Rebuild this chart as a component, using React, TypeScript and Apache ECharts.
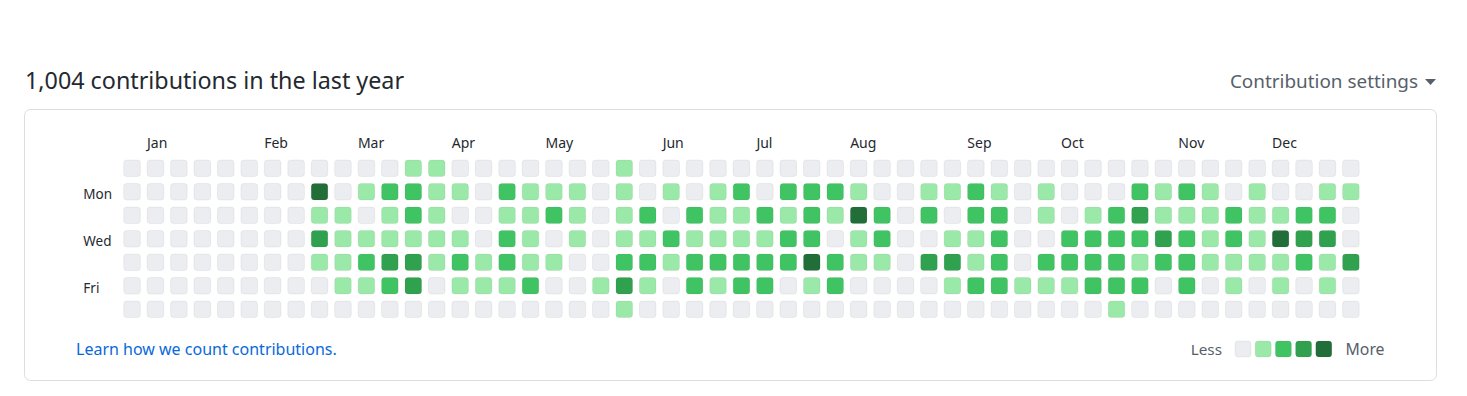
import React, { useEffect, useRef } from "react";
import * as echarts from "echarts";

const levelColors = ["#ebedf0", "#9be9a8", "#40c463", "#30a14e", "#216e39"];
const weekdays = ["Sun", "Mon", "Tue", "Wed", "Thu", "Fri", "Sat"];
const shownWeekdayRows = [1, 3, 5];
const monthNames = ["Jan", "Feb", "Mar", "Apr", "May", "Jun", "Jul", "Aug", "Sep", "Oct", "Nov", "Dec"];
const monthStartWeek = [1, 6, 10, 14, 18, 23, 27, 31, 36, 40, 45, 49];

const sun = [0,0,0,0,0,0,0,0,0,0,0,0,1,1,0,0,0,0,0,0,0,1,0,0,0,0,0,0,0,0,0,0,0,0,0,0,0,0,0,0,0,0,0,0,0,0,0,0,0,0,0,0,0];
const mon = [0,0,0,0,0,0,0,0,4,0,1,2,2,1,1,0,2,1,1,1,0,1,0,1,0,1,2,0,2,2,2,1,0,0,1,1,2,1,0,1,0,0,0,2,1,2,1,0,1,0,0,1,1];
const tue = [0,0,0,0,0,0,0,0,1,1,0,1,2,1,0,0,1,1,2,1,0,1,2,0,2,1,1,2,1,2,1,4,2,0,2,0,2,2,0,1,0,1,2,3,1,1,1,2,1,1,2,2,0];
const wed = [0,0,0,0,0,0,0,0,3,1,1,1,1,1,1,0,2,1,0,1,0,1,1,2,1,1,1,1,2,2,0,1,2,0,0,1,1,2,0,0,2,2,2,2,3,2,1,2,1,4,3,3,0];
const thu = [0,0,0,0,0,0,0,0,1,1,2,3,3,1,2,1,2,1,1,0,0,2,2,1,2,2,2,2,2,4,2,1,1,0,3,3,1,2,0,2,2,2,2,1,2,2,1,1,1,1,2,1,3];
const fri = [0,0,0,0,0,0,0,0,0,1,1,2,3,0,1,1,1,2,0,0,1,3,1,0,2,1,2,2,0,1,2,0,0,0,0,1,2,2,1,1,1,2,2,2,0,2,0,1,0,1,0,1,0];
const sat = [0,0,0,0,0,0,0,0,0,0,0,0,0,0,0,0,0,0,0,0,0,1,0,0,0,0,0,0,0,0,0,0,0,0,0,0,0,0,0,0,0,0,1,0,0,0,0,0,0,0,0,0,0];
const dayRows = [sun, mon, tue, wed, thu, fri, sat];

const headerText = "1,004 contributions in the last year";
const settingsText = "Contribution settings";
const linkText = "Learn how we count contributions.";

const FONT = '"Noto Sans", sans-serif';

export default function App() {
  const ref = useRef<HTMLDivElement>(null);
  useEffect(() => {
    if (!ref.current) return;
    const chart = echarts.init(ref.current, undefined, { renderer: "svg" });
    const weeks = dayRows[0].map((_, i) => String(i));
    const cells: number[][] = [];
    dayRows.forEach((row, r) => row.forEach((v, c) => cells.push([c, r, v])));
    const monthData = monthStartWeek.map((w) => [w, 0]);
    const dayData = shownWeekdayRows.map((r) => [0, r]);
    const gridLeft = 120.3;
    const gridTop = 156.55;
    const step = 23.44;
    const cellSize = 16.6;
    const legendX = [1235, 1255.2, 1275.4, 1295.6, 1315.8];

    chart.setOption({
      animation: false,
      grid: { left: gridLeft, top: gridTop, width: step * 53, height: 23.5 * 7 },
      xAxis: { type: "category", data: weeks, show: false },
      yAxis: { type: "category", data: weekdays, inverse: true, show: false },
      series: [
        {
          type: "custom",
          data: cells,
          encode: { x: 0, y: 1 },
          renderItem: (params: any, api: any) => {
            const p = api.coord([api.value(0), api.value(1)]);
            const s = cellSize;
            return {
              type: "rect",
              shape: { x: p[0] - s / 2, y: p[1] - s / 2, width: s, height: s, r: 3 },
              style: { fill: levelColors[api.value(2)], stroke: "rgba(27,31,35,0.06)", lineWidth: 1 },
            };
          },
        },
        {
          type: "custom",
          data: monthData,
          encode: { x: 0, y: 1 },
          renderItem: (params: any, api: any) => {
            const p = api.coord([api.value(0), api.value(1)]);
            return {
              type: "text",
              x: p[0] - cellSize / 2 - 0.2,
              y: p[1] - 25.6,
              style: {
                text: monthNames[params.dataIndex],
                fill: "#24292f",
                font: `14px ${FONT}`,
                verticalAlign: "middle",
                align: "left",
              },
            };
          },
        },
        {
          type: "custom",
          data: dayData,
          encode: { x: 0, y: 1 },
          renderItem: (params: any, api: any) => {
            const p = api.coord([api.value(0), api.value(1)]);
            return {
              type: "text",
              x: 83.3,
              y: p[1] + 2.4,
              style: {
                text: weekdays[shownWeekdayRows[params.dataIndex]],
                fill: "#24292f",
                font: `13.5px ${FONT}`,
                verticalAlign: "middle",
                align: "left",
              },
            };
          },
        },
      ],
      graphic: [
        {
          type: "rect",
          shape: { x: 24.5, y: 109.5, width: 1412, height: 271, r: 6 },
          style: { fill: "none", stroke: "#d8dee4", lineWidth: 1 },
        },
        {
          type: "text",
          x: 25,
          y: 79.5,
          style: { text: headerText, fill: "#24292f", font: `23.3px ${FONT}`, verticalAlign: "middle" },
        },
        {
          type: "text",
          x: 1418,
          y: 81,
          style: { text: settingsText, fill: "#57606a", font: `18.9px ${FONT}`, verticalAlign: "middle", align: "right" },
        },
        {
          type: "polygon",
          shape: { points: [[1425, 79], [1436, 79], [1430.5, 85]] },
          style: { fill: "#57606a" },
        },
        {
          type: "text",
          x: 76,
          y: 349,
          style: { text: linkText, fill: "#0969da", font: `16px ${FONT}`, verticalAlign: "middle" },
        },
        {
          type: "text",
          x: 1222,
          y: 349,
          style: { text: "Less", fill: "#57606a", font: `15.3px ${FONT}`, verticalAlign: "middle", align: "right" },
        },
        {
          type: "text",
          x: 1345.5,
          y: 349,
          style: { text: "More", fill: "#57606a", font: `15.8px ${FONT}`, verticalAlign: "middle" },
        },
        ...levelColors.map((c, i) => ({
          type: "rect",
          shape: { x: legendX[i], y: 341, width: 16, height: 16, r: 3 },
          style: { fill: c, stroke: "rgba(27,31,35,0.06)", lineWidth: 1 },
        })),
      ],
    });
    return () => chart.dispose();
  }, []);
  return (
    <div
      ref={ref}
      style={{ position: "absolute", left: 0, top: 0, width: 1467, height: 396, background: "#ffffff" }}
    />
  );
}
